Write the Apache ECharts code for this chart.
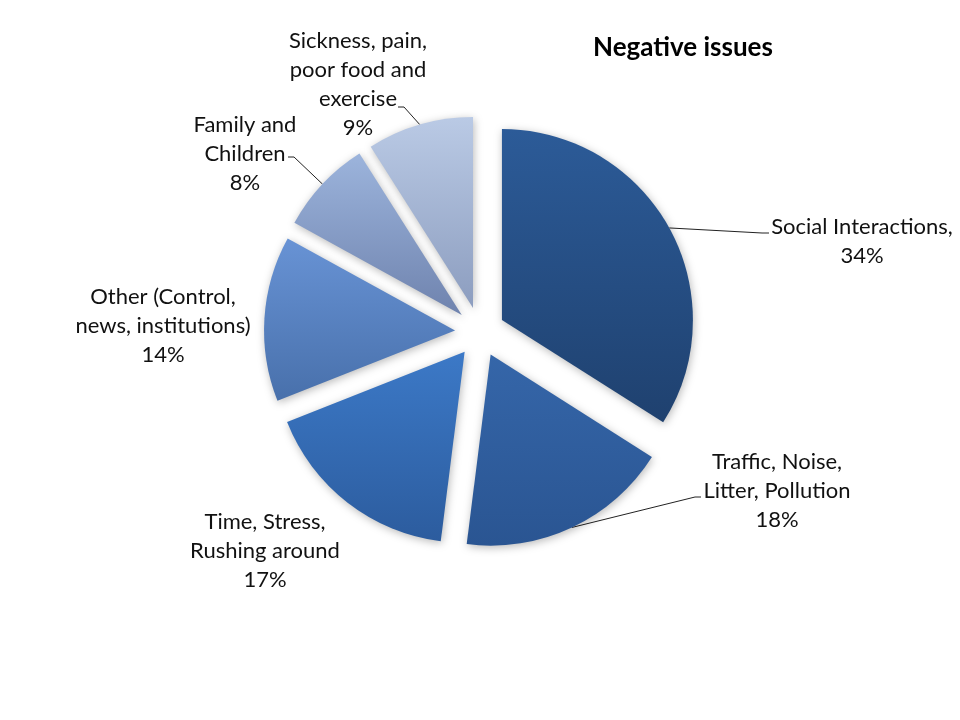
<!DOCTYPE html>
<html><head><meta charset="utf-8">
<script src="https://cdn.jsdelivr.net/npm/echarts@6/dist/echarts.min.js"></script>
<style>html,body{margin:0;padding:0;background:#fff}#c{width:960px;height:720px}</style>
</head><body><div id="c"></div>
<script>
// ---- data ----
const categories = ['Social Interactions,', 'Traffic, Noise,\nLitter, Pollution', 'Time, Stress,\nRushing around', 'Other (Control,\nnews, institutions)', 'Family and\nChildren', 'Sickness, pain,\npoor food and\nexercise'];
const values = [34, 18, 17, 14, 8, 9];
const titleText = 'Negative issues';

// ---- styling (not data) ----
const topColors = ['#2c5b98', '#3566a9', '#3c79c7', '#6893d5', '#9cb4dc', '#bacae5'];
const bottomColors = ['#1f416f', '#2a5592', '#2c5c9e', '#4870ab', '#6f83ae', '#8c9dbf'];
const showLine = [true, true, false, false, true, true];
const labelPos = [[862, 241], [777, 491], [265, 551], [163, 326], [245, 154], [358, 84]];
const lineEnds = [[[762, 233], [769, 233]], [[695, 497], [701, 497]], null, null, [[294, 157], [288, 157]], [[404, 107], [398, 107]]];
const CX = 480, CY = 332, R = 191, OFF = 25;
const FONT = 'Lato';

const total = values.reduce((a, b) => a + b, 0);
function midDir(i) {
  let before = 0;
  for (let k = 0; k < i; k++) before += values[k];
  const mid = (before + values[i] / 2) / total * 2 * Math.PI;
  return [Math.sin(mid), -Math.cos(mid)];
}
function arcPoint(i) {
  const d = midDir(i);
  return [CX + d[0] * (R + OFF), CY + d[1] * (R + OFF)];
}

const chart = echarts.init(document.getElementById('c'));

const series = categories.map((_, s) => {
  const d = midDir(s);
  return {
    type: 'pie',
    center: [CX + d[0] * OFF, CY + d[1] * OFF],
    radius: [0, R],
    startAngle: 90,
    clockwise: true,
    avoidLabelOverlap: false,
    silent: true,
    emphasis: { disabled: true },
    label: {
      show: false,
      position: 'outside',
      overflow: 'none',
      fontFamily: FONT,
      fontSize: 22,
      lineHeight: 29,
      color: '#111',
      align: 'center',
      formatter: p => p.name + '\n' + p.value + '%'
    },
    labelLine: { show: false, lineStyle: { color: '#222', width: 1 } },
    labelLayout: function (params) {
      const i = params.dataIndex;
      const res = { x: labelPos[i][0], y: labelPos[i][1], align: 'center', verticalAlign: 'middle' };
      if (lineEnds[i]) res.labelLinePoints = [arcPoint(i), lineEnds[i][0], lineEnds[i][1]];
      return res;
    },
    data: categories.map((name, i) => i === s ? {
      name: name,
      value: values[i],
      itemStyle: {
        color: new echarts.graphic.LinearGradient(0, 0, 0, 1, [
          { offset: 0, color: topColors[i] },
          { offset: 1, color: bottomColors[i] }
        ]),
        shadowBlur: 8,
        shadowColor: 'rgba(0,0,0,0.28)',
        shadowOffsetX: 1,
        shadowOffsetY: 2
      },
      label: { show: true },
      labelLine: { show: showLine[i] }
    } : {
      name: name,
      value: values[i],
      itemStyle: { color: 'rgba(0,0,0,0)' },
      label: { show: false },
      labelLine: { show: false }
    })
  };
});

chart.setOption({
  animation: false,
  backgroundColor: '#ffffff',
  title: {
    text: titleText,
    left: 588,
    top: 30,
    textStyle: { fontFamily: FONT, fontWeight: 'bold', fontSize: 26, color: '#000' }
  },
  series: series
});
</script>
</body></html>
